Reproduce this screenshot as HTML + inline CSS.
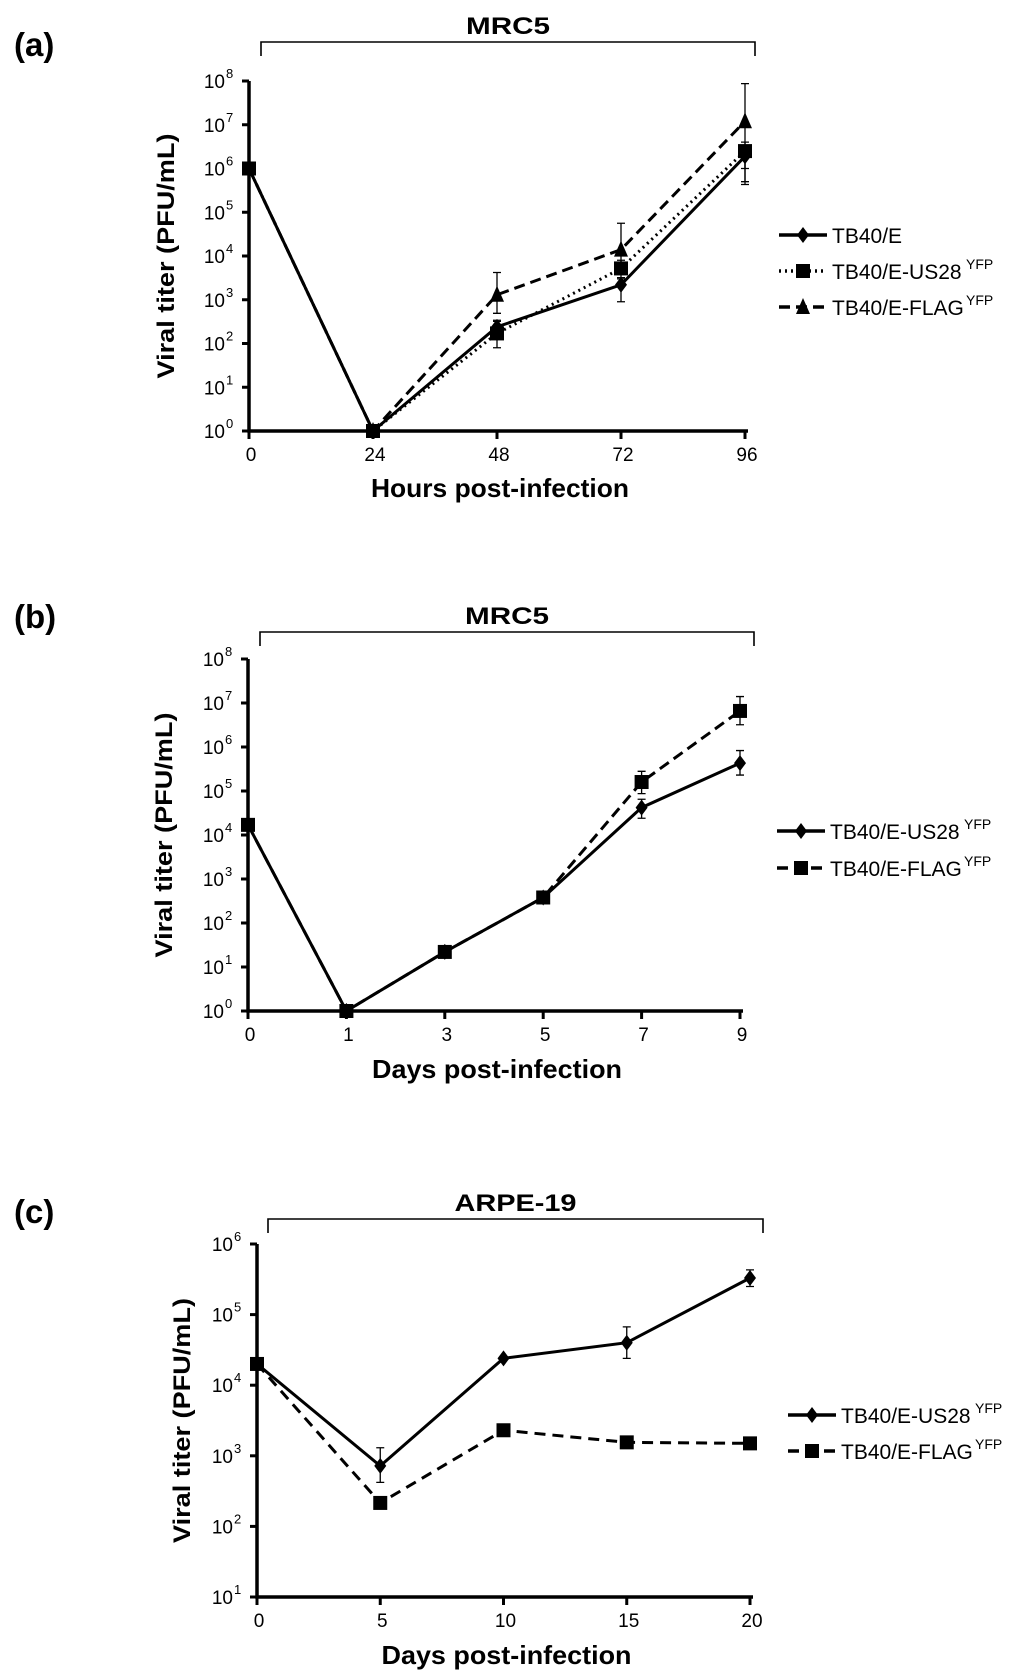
<!DOCTYPE html>
<html><head><meta charset="utf-8"><style>
html,body{margin:0;padding:0;background:#fff}
svg{display:block}
text{font-family:"Liberation Sans",Arial,sans-serif;fill:#000}
</style></head><body>
<svg id="fig" width="1024" height="1680" viewBox="0 0 1024 1680" xmlns="http://www.w3.org/2000/svg"></svg>
<script>
// Panel A data
const aCats = ["0","24","48","72","96"];
const aTB40 = [1e6, 1, 240, 2200, 1.9e6];
const aUS28 = [1e6, 1, 170, 5200, 2.5e6];
const aFLAG = [1e6, 1, 1300, 14000, 1.2e7];
const aTB40Err = [null, null, [150, 320], [900, 3200], [4.3e5, 3e6]];
const aUS28Err = [null, null, [80, 340], [3000, 8000], [1e6, 4e6]];
const aFLAGErr = [null, null, [490, 4200], [6000, 56000], [5e5, 8.7e7]];
const aYTicks = [0,1,2,3,4,5,6,7,8];
// Panel B data
const bCats = ["0","1","3","5","7","9"];
const bUS28 = [17000, 1, 22, 380, 42000, 430000];
const bFLAG = [17000, 1, 22, 380, 160000, 6.6e6];
const bUS28Err = [null, null, null, null, [24000, 65000], [2.3e5, 8.3e5]];
const bFLAGErr = [null, null, null, null, [87000, 2.8e5], [3.2e6, 1.4e7]];
const bYTicks = [0,1,2,3,4,5,6,7,8];
// Panel C data
const cCats = ["0","5","10","15","20"];
const cUS28 = [20000, 720, 24000, 40000, 330000];
const cFLAG = [20000, 215, 2300, 1550, 1500];
const cUS28Err = [null, [420, 1300], null, [24000, 67000], [250000, 430000]];
const cFLAGErr = [null, null, null, null, null];
const cYTicks = [1,2,3,4,5,6];

const NS="http://www.w3.org/2000/svg";
const svg=document.getElementById('fig');
function mk(tag,attrs,parent){const e=document.createElementNS(NS,tag);for(const k in attrs)e.setAttribute(k,attrs[k]);(parent||svg).appendChild(e);return e;}

function marker(g,shape,x,y){
  let m;
  if(shape==='diamond') m=mk('polygon',{points:`${x},${y-8} ${x+6},${y} ${x},${y+8} ${x-6},${y}`,fill:'#000'},g);
  else if(shape==='square') m=mk('rect',{x:x-7,y:y-7,width:14,height:14,fill:'#000'},g);
  else m=mk('polygon',{points:`${x},${y-9} ${x+7},${y+7} ${x-7},${y+7}`,fill:'#000'},g);
  return m;
}

function panel(p){
  const g=mk('g',{});
  
  
  const ymin=p.yTicks[0], ymax=p.yTicks[p.yTicks.length-1];
  const yS=v=>p.y0-(Math.log10(v)-ymin)/(ymax-ymin)*(p.y0-p.yTop);
  const xS=i=>p.x0+i*(p.x1-p.x0)/(p.cats.length-1);
  const lt=mk('text',{x:14,y:p.letterY,'font-size':33,'font-weight':'bold'},g);lt.textContent=p.letter;
  
  
  const br=mk('path',{d:`M${p.bx0},${p.by+14}V${p.by}H${p.bx1}V${p.by+14}`,fill:'none',stroke:'#000','stroke-width':1.6},g);
  
  
  const bt=mk('text',{x:(p.bx0+p.bx1)/2,y:p.by-8,'font-size':24,'font-weight':'bold','text-anchor':'middle',textLength:p.cellW,lengthAdjust:'spacingAndGlyphs'},g);bt.textContent=p.cell;
  
  
  const ax=mk('path',{d:`M${p.axX},${p.yTop}V${p.y0}H${p.x1+3}`,fill:'none',stroke:'#000','stroke-width':3.5},g);
  
  
  p.yTicks.forEach(t=>{
    const y=yS(Math.pow(10,t));
    mk('line',{x1:p.axX-7,x2:p.axX,y1:y,y2:y,stroke:'#000','stroke-width':3},g);
    const tx=mk('text',{x:p.axX-24,y:y+7,'font-size':19,'text-anchor':'end'},g);
    
    
    tx.textContent='10';
    const sp=mk('text',{x:p.axX-23,y:y-3,'font-size':13},g);sp.textContent=String(t);
    
    
  });
  p.cats.forEach((c,i)=>{
    const x=xS(i);
    mk('line',{x1:x,x2:x,y1:p.y0,y2:p.y0+8,stroke:'#000','stroke-width':3},g);
    const tx=mk('text',{x:x+2,y:p.y0+30,'font-size':19,'text-anchor':'middle'},g);tx.textContent=c;
    
    
  });
  const xl=mk('text',{x:(p.x0+p.x1)/2+3,y:p.xlY,'font-size':26,'font-weight':'bold','text-anchor':'middle',textLength:p.xlW,lengthAdjust:'spacingAndGlyphs'},g);xl.textContent=p.xlabel;
  
  
  const ymid=(p.yTop+p.y0)/2;
  const yl=mk('text',{x:p.ytX,y:ymid,'font-size':24,'font-weight':'bold','text-anchor':'middle',transform:`rotate(-90 ${p.ytX} ${ymid})`,textLength:245,lengthAdjust:'spacingAndGlyphs'},g);yl.textContent='Viral titer (PFU/mL)';
  
  
  p.series.forEach((s,si)=>{
    const sg=mk('g',{},g);
    
    
    const pts=s.vals.map((v,i)=>[xS(i),yS(v)]);
    mk('polyline',{points:pts.map(q=>q.join(',')).join(' '),fill:'none',stroke:'#000','stroke-width':3,'stroke-dasharray':s.dash},sg);
    s.err.forEach((e,i)=>{
      if(!e)return;const x=xS(i);
      const el=mk('path',{d:`M${x},${yS(e[0])}V${yS(e[1])}M${x-4},${yS(e[0])}H${x+4}M${x-4},${yS(e[1])}H${x+4}`,stroke:'#000','stroke-width':1.3,fill:'none'},sg);
      
      
    });
    pts.forEach(q=>{const m=marker(sg,s.shape,q[0],q[1]);
      
      });
    const ly=p.legY+si*p.legGap;
    const lg=mk('g',{},g);
    
    
    mk('line',{x1:p.legX,x2:p.legX+48,y1:ly,y2:ly,stroke:'#000','stroke-width':3.5,'stroke-dasharray':s.dash},lg);
    marker(lg,s.shape,p.legX+24,ly);
    const t=mk('text',{x:p.legX+53,y:ly+8,'font-size':21},lg);
    t.textContent=s.label;
    if(s.sup){const sp=mk('text',{x:p.legX+53+s.labW,y:ly-2,'font-size':14},lg);sp.textContent='YFP';}
  });
}

panel({name:'panel-a',letter:'(a)',letterY:56,cell:'MRC5',cellW:84,bx0:261,bx1:755,by:42,
  axX:249,yTop:81,y0:431,x0:249,x1:745,cats:aCats,yTicks:aYTicks,xlabel:'Hours post-infection',xlY:497,xlW:258,ytX:174,
  legX:779,legY:235,legGap:36,
  series:[
    {key:'tb40e',label:'TB40/E',sup:false,labW:0,vals:aTB40,err:aTB40Err,shape:'diamond',dash:'none'},
    {key:'us28',label:'TB40/E-US28',sup:true,labW:134,vals:aUS28,err:aUS28Err,shape:'square',dash:'2,4'},
    {key:'flag',label:'TB40/E-FLAG',sup:true,labW:134,vals:aFLAG,err:aFLAGErr,shape:'triangle',dash:'11,6'}]});
panel({name:'panel-b',letter:'(b)',letterY:628,cell:'MRC5',cellW:84,bx0:260,bx1:754,by:632,
  axX:248,yTop:659,y0:1011,x0:248,x1:740,cats:bCats,yTicks:bYTicks,xlabel:'Days post-infection',xlY:1078,xlW:250,ytX:172,
  legX:777,legY:831,legGap:37,
  series:[
    {key:'us28',label:'TB40/E-US28',sup:true,labW:134,vals:bUS28,err:bUS28Err,shape:'diamond',dash:'none'},
    {key:'flag',label:'TB40/E-FLAG',sup:true,labW:134,vals:bFLAG,err:bFLAGErr,shape:'square',dash:'11,6'}]});
panel({name:'panel-c',letter:'(c)',letterY:1223,cell:'ARPE-19',cellW:122,bx0:268,bx1:763,by:1219,
  axX:257,yTop:1244,y0:1597,x0:257,x1:750,cats:cCats,yTicks:cYTicks,xlabel:'Days post-infection',xlY:1664,xlW:250,ytX:190,
  legX:788,legY:1415,legGap:36,
  series:[
    {key:'us28',label:'TB40/E-US28',sup:true,labW:134,vals:cUS28,err:cUS28Err,shape:'diamond',dash:'none'},
    {key:'flag',label:'TB40/E-FLAG',sup:true,labW:134,vals:cFLAG,err:cFLAGErr,shape:'square',dash:'11,7'}]});
</script>
</body></html>
